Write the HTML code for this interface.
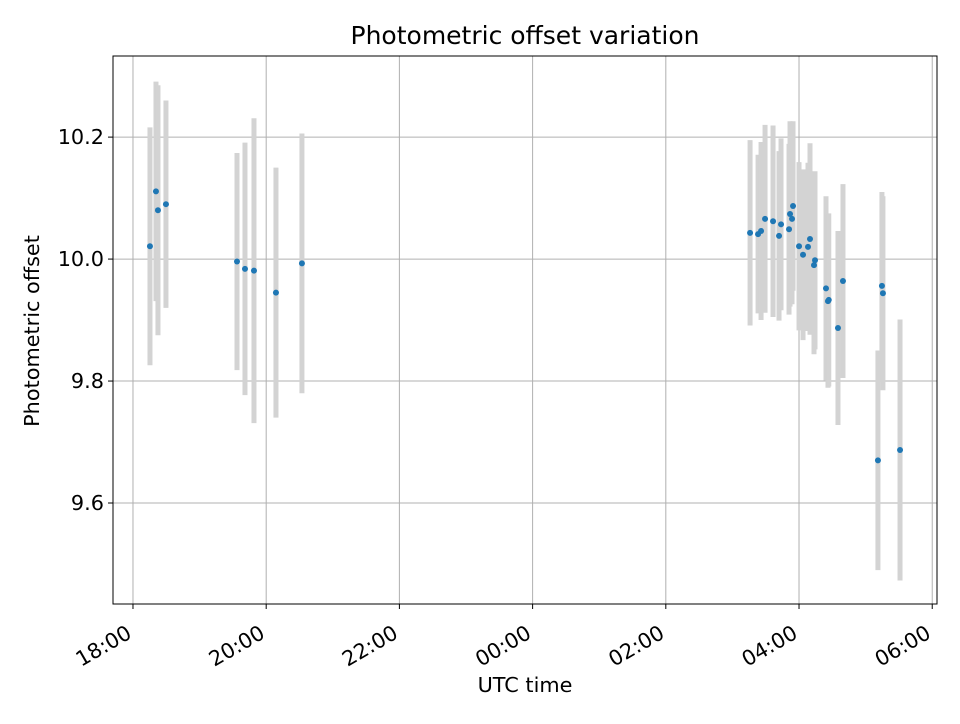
<!DOCTYPE html>
<html><head><meta charset="utf-8"><style>
body{margin:0;background:#fff;font-family:"DejaVu Sans","Liberation Sans",sans-serif;}
</style></head><body>
<svg id="chart" width="960" height="720" xmlns="http://www.w3.org/2000/svg" font-family="DejaVu Sans, Liberation Sans, sans-serif">
<rect width="960" height="720" fill="#fff"/>
<g id="grid"></g>
<g id="bars"></g>
<g id="pts"></g>
<rect x="113" y="56" width="824" height="548" fill="none" stroke="#000" stroke-width="1"/>
<g id="axes"></g>
<text x="525" y="44" text-anchor="middle" font-size="25">Photometric offset variation</text>
<text x="525" y="692" text-anchor="middle" font-size="20.8">UTC time</text>
<text transform="translate(39,331) rotate(-90)" text-anchor="middle" font-size="20.8">Photometric offset</text>
</svg>
<script>
// minutes since 18:00 UTC
const timesMin=[15.3,20.7,22.5,29.7,93.7,100.9,109,128.8,152.2,555.9,563.1,565.8,569.4,576.6,582,583.8,591,591.9,593.7,594.6,600,603.6,608.1,609.9,613.5,614.4,624.3,626.1,626.8,635.1,639.6,671.1,674.7,675.6,691];
const offsets=[10.021,10.111,10.080,10.090,9.996,9.984,9.981,9.945,9.993,10.043,10.041,10.046,10.066,10.062,10.038,10.057,10.049,10.074,10.066,10.087,10.021,10.007,10.020,10.033,9.990,9.998,9.952,9.931,9.933,9.887,9.964,9.670,9.956,9.944,9.687];
const errors=[0.195,0.18,0.205,0.17,0.178,0.207,0.25,0.205,0.213,0.152,0.13,0.146,0.154,0.157,0.139,0.141,0.14,0.152,0.14,0.139,0.138,0.14,0.138,0.157,0.146,0.146,0.151,0.142,0.142,0.159,0.159,0.18,0.154,0.159,0.214];
const xTickMin=[0,120,240,360,480,600,720];
const xTickLabels=["18:00","20:00","22:00","00:00","02:00","04:00","06:00"];
const yTicks=[9.6,9.8,10.0,10.2];
const yTickLabels=["9.6","9.8","10.0","10.2"];
const X0=113,X1=937,Y0=56,Y1=604,xMin=-18,xMax=724.3,yMin=9.4344,yMax=10.333;
function sx(m){return X0+(m-xMin)/(xMax-xMin)*(X1-X0);}
function sy(v){return Y1-(v-yMin)/(yMax-yMin)*(Y1-Y0);}
const NS="http://www.w3.org/2000/svg";
function mk(t,a,p){const e=document.createElementNS(NS,t);for(const k in a)e.setAttribute(k,a[k]);p.appendChild(e);return e;}
const grid=document.getElementById('grid'),axes=document.getElementById('axes'),bars=document.getElementById('bars'),pts=document.getElementById('pts');
xTickMin.forEach((m,i)=>{const x=sx(m);
 let g=mk('line',{x1:x,x2:x,y1:Y0,y2:Y1,stroke:'#b0b0b0','stroke-width':1},grid);
 
 
 let t=mk('line',{x1:x,x2:x,y1:Y1,y2:Y1+5,stroke:'#000'},axes);
 
 
 const ax=x, ay=Y1+33;
 let l=mk('text',{x:ax,y:ay,'text-anchor':'end','font-size':20.8,transform:`rotate(-30 ${ax} ${ay})`},axes);
 l.textContent=xTickLabels[i];
 
 
});
yTicks.forEach((v,i)=>{const y=sy(v);
 let g=mk('line',{x1:X0,x2:X1,y1:y,y2:y,stroke:'#b0b0b0','stroke-width':1},grid);
 
 
 let t=mk('line',{x1:X0-5,x2:X0,y1:y,y2:y,stroke:'#000'},axes);
 
 
 let l=mk('text',{x:X0-9,y:y+7,'text-anchor':'end','font-size':20.8},axes);
 l.textContent=yTickLabels[i];
 
 
});
timesMin.forEach((m,i)=>{const x=sx(m);
 let b=mk('line',{x1:x,x2:x,y1:sy(offsets[i]+errors[i]),y2:sy(offsets[i]-errors[i]),stroke:'#d3d3d3','stroke-width':5},bars);
 
 
 let c=mk('circle',{cx:x,cy:sy(offsets[i]),r:3,fill:'#1f77b4'},pts);
 
 
});
</script>
</body></html>
